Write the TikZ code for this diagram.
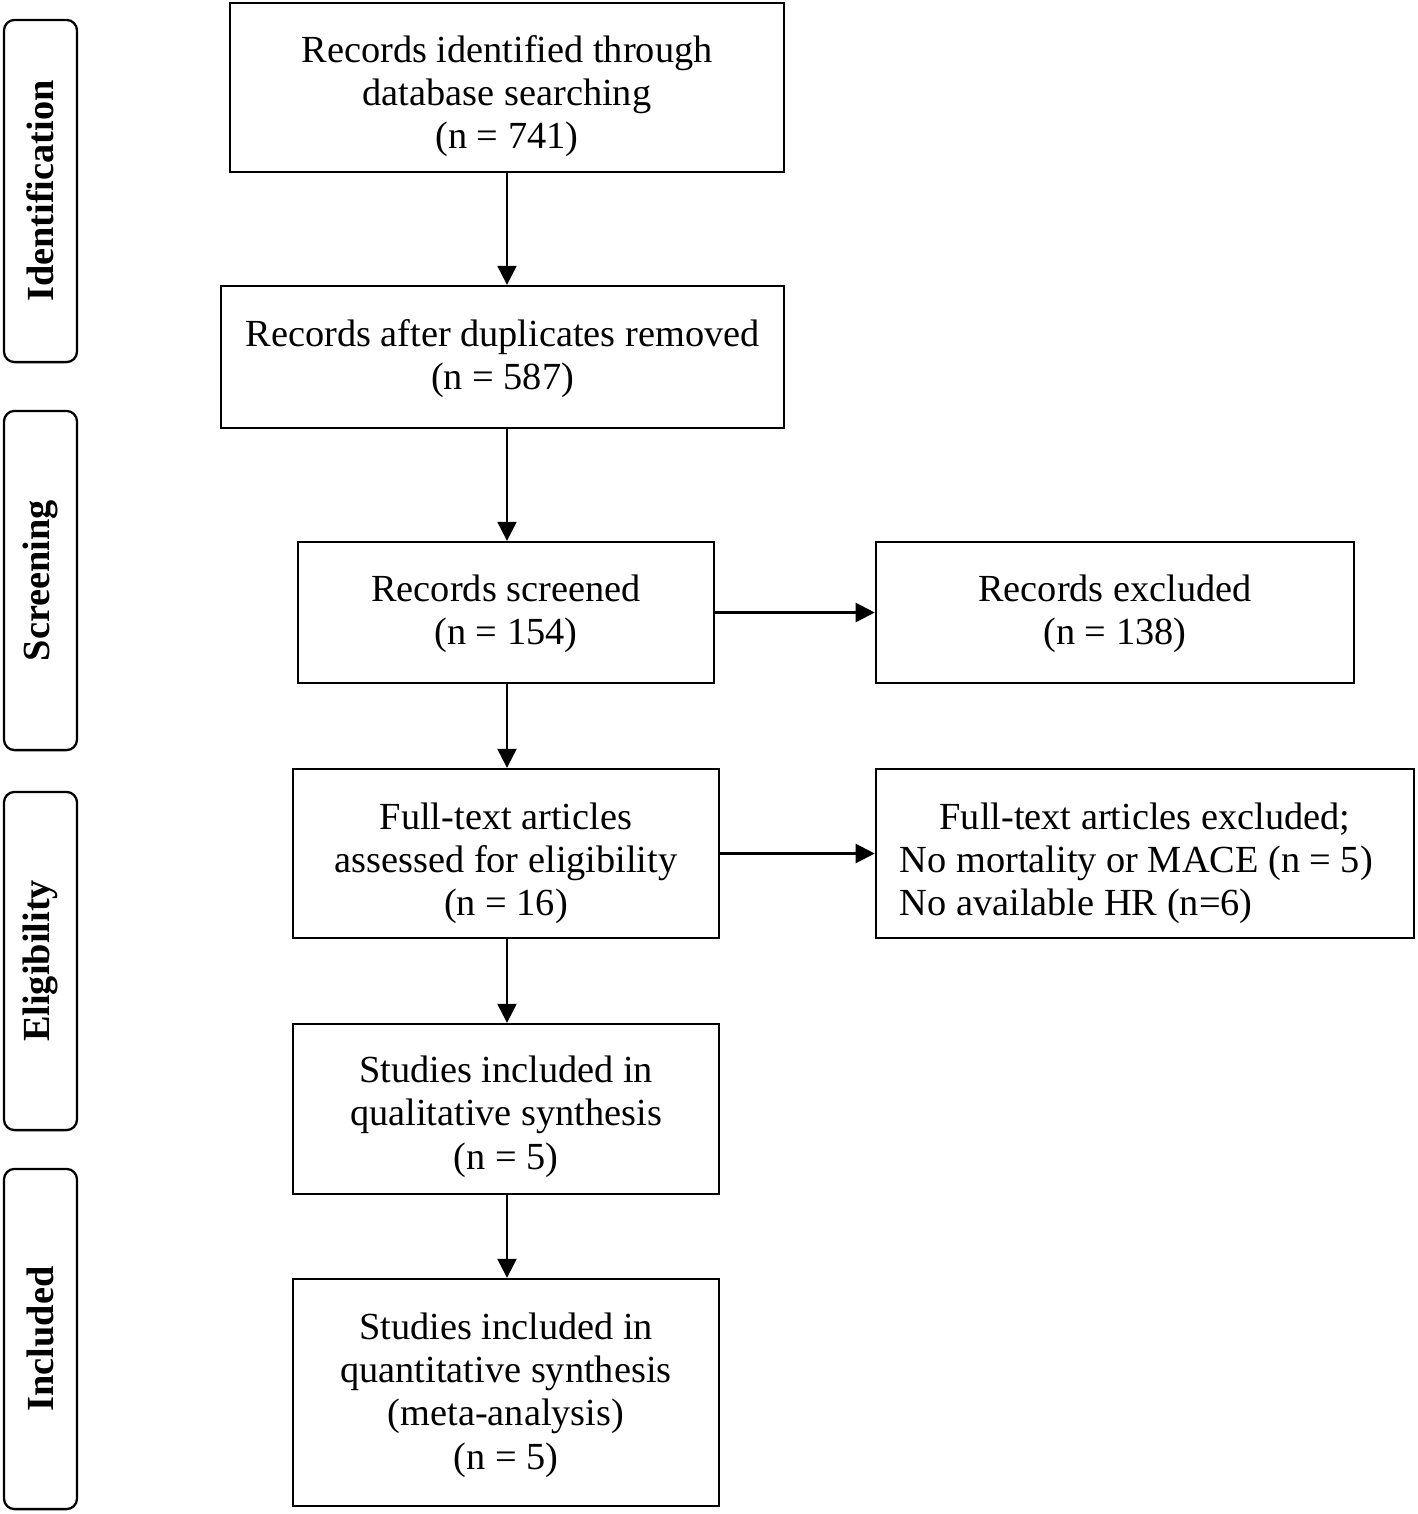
\documentclass[tikz,border=0pt]{standalone}
\usepackage{fontspec}
\setmainfont{Liberation Serif}
\usetikzlibrary{arrows.meta}
\newcommand\lowtext[2]{\raisebox{-#1}[\height][\depth]{\begin{tabular}{@{}c@{}}#2\end{tabular}}}
\begin{document}
\begin{tikzpicture}[x=0.01cm,y=-0.01cm,
  every node/.style={font=\fontsize{10.9pt}{12.3pt}\selectfont},
  box/.style={draw, line width=0.65pt, inner sep=0pt},
  stage/.style={draw, line width=0.65pt, rounded corners=3pt, rotate=90,
    minimum height=0.73cm, inner sep=0pt, font=\fontsize{10.9pt}{12.3pt}\selectfont\bfseries},
  arr/.style={line width=0.65pt, -{Triangle[length=5.4pt,width=5.4pt]}}]
\useasboundingbox (0,0) rectangle (1418,1514);
% stage labels
\node[stage, minimum width=3.42cm] (s1) at (40.5,191) {Identification};
\node[stage, minimum width=3.39cm] (s2) at (40.5,580.5) {Screening};
\node[stage, minimum width=3.38cm] (s3) at (40.5,961) {Eligibility};
\node[stage, minimum width=3.40cm] (s4) at (40.5,1339) {Included};
% boxes
\node[box, minimum width=5.54cm, minimum height=1.69cm] (b1) at (507,87.5)
  {\lowtext{2.6pt}{Records identified through\\database searching\\(n = 741)}};
\node[box, minimum width=5.63cm, minimum height=1.42cm] (b2) at (502.5,357)
  {\lowtext{0.6pt}{Records after duplicates removed\\(n = 587)}};
\node[box, minimum width=4.16cm, minimum height=1.41cm] (b3) at (506,612.5)
  {\lowtext{0.6pt}{Records screened\\(n = 154)}};
\node[box, minimum width=4.78cm, minimum height=1.41cm] (b4) at (1115,612.5)
  {\lowtext{0.6pt}{Records excluded\\(n = 138)}};
\node[box, minimum width=4.26cm, minimum height=1.69cm] (b5) at (506,853.5)
  {\lowtext{3pt}{Full-text articles\\assessed for eligibility\\(n = 16)}};
\node[box, minimum width=5.38cm, minimum height=1.69cm] (b6) at (1145,853.5)
  {\raisebox{-3pt}[\height][\depth]{\begin{tabular}{@{}p{4.9cm}@{}}\multicolumn{1}{@{}c@{}}{Full-text articles excluded;}\\No mortality or MACE (n = 5)\\No available HR (n=6)\end{tabular}}};
\node[box, minimum width=4.26cm, minimum height=1.70cm] (b7) at (506,1109)
  {\lowtext{2.3pt}{Studies included in\\qualitative synthesis\\(n = 5)}};
\node[box, minimum width=4.26cm, minimum height=2.27cm] (b8) at (506,1392.5)
  {\lowtext{0.9pt}{Studies included in\\quantitative synthesis\\(meta-analysis)\\(n = 5)}};
% connectors
\coordinate (c1) at (507,172);
\draw[arr] (c1) -- (c1 |- b2.north);
\draw[arr] (b2.south -| c1) -- (b3.north -| c1);
\draw[arr] (b3.south -| c1) -- (b5.north -| c1);
\draw[arr] (b5.south -| c1) -- (b7.north -| c1);
\draw[arr] (b7.south -| c1) -- (b8.north -| c1);
\draw[arr] (b3.east) -- (b3.east -| b4.west);
\draw[arr] (b5.east) -- (b5.east -| b6.west);
\end{tikzpicture}
\end{document}
